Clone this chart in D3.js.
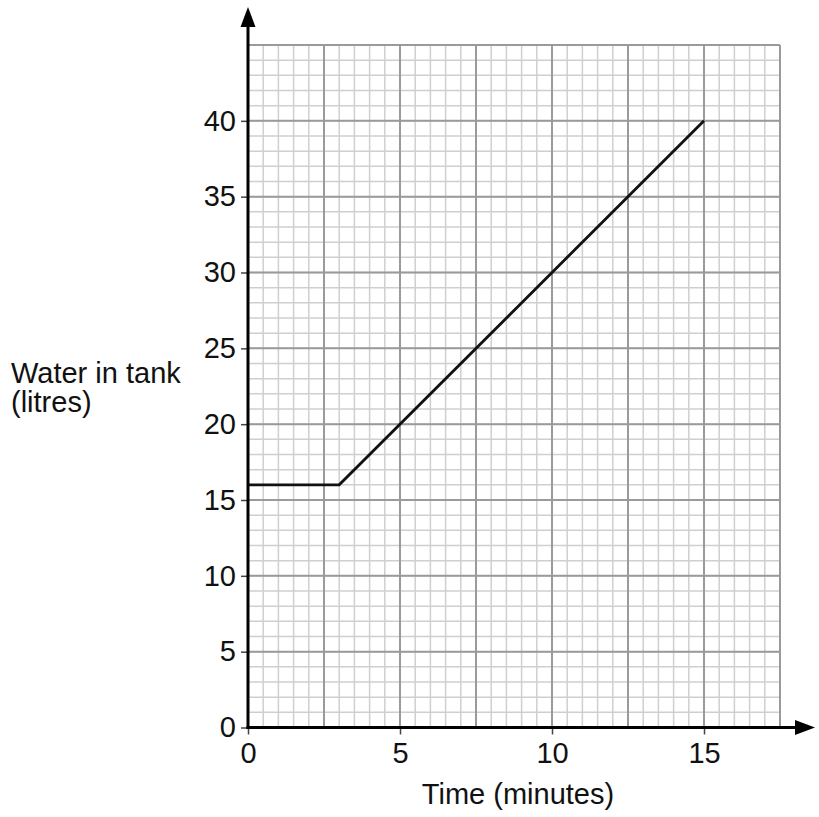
<html>
<head>
<title>Water in tank</title>
<script src="https://d3js.org/d3.v7.min.js"></script>
<style>
	body { margin: 0; background: #fff; }
	text { font-family: "Liberation Sans", Arial, sans-serif; fill: #111; }
</style>
</head>
<body>
<div id="chart"></div>
<script>
	// data
	var time_pts = [0, 3, 15];
	var water_pts = [16, 16, 40];
	var x_ticks = [0, 5, 10, 15];
	var y_ticks = [0, 5, 10, 15, 20, 25, 30, 35, 40];
	var x_max = 17.5;
	var y_max = 45;

	var W = 819, H = 817;
	var svg = d3.select("#chart").append("svg")
		.attr("width", W)
		.attr("height", H);

	var x = d3.scaleLinear().domain([0, x_max]).range([248, 780]);
	var y = d3.scaleLinear().domain([0, y_max]).range([727.5, 45]);

	// grid: minor then major
	var grid = svg.append("g");
	var minor_x = d3.range(0, x_max + 0.01, 0.5);
	var minor_y = d3.range(0, y_max + 0.01, 1);
	var major_x = d3.range(0, x_max + 0.01, 2.5);
	var major_y = d3.range(0, y_max + 0.01, 5);

	grid.selectAll(".mx").data(minor_x).enter().append("line")
		.attr("x1", function(d) { return x(d); })
		.attr("x2", function(d) { return x(d); })
		.attr("y1", y(0)).attr("y2", y(y_max))
		.attr("stroke", "#cfcfcf").attr("stroke-width", 1.5);
	grid.selectAll(".my").data(minor_y).enter().append("line")
		.attr("y1", function(d) { return y(d); })
		.attr("y2", function(d) { return y(d); })
		.attr("x1", x(0)).attr("x2", x(x_max))
		.attr("stroke", "#cfcfcf").attr("stroke-width", 1.5);
	grid.selectAll(".Mx").data(major_x).enter().append("line")
		.attr("x1", function(d) { return x(d); })
		.attr("x2", function(d) { return x(d); })
		.attr("y1", y(0)).attr("y2", y(y_max))
		.attr("stroke", "#9a9a9a").attr("stroke-width", 2);
	grid.selectAll(".My").data(major_y).enter().append("line")
		.attr("y1", function(d) { return y(d); })
		.attr("y2", function(d) { return y(d); })
		.attr("x1", x(0)).attr("x2", x(x_max))
		.attr("stroke", "#9a9a9a").attr("stroke-width", 2);

	// the graph line
	var pts = time_pts.map(function(t, i) { return [t, water_pts[i]]; });
	svg.append("path")
		.datum(pts)
		.attr("fill", "none")
		.attr("stroke", "#111")
		.attr("stroke-width", 2.8)
		.attr("d", d3.line()
			.x(function(d) { return x(d[0]); })
			.y(function(d) { return y(d[1]); }));

	// axes
	var xAxis = svg.append("g")
		.attr("transform", "translate(0," + y(0) + ")")
		.call(d3.axisBottom(x).tickValues(x_ticks).tickSize(7).tickPadding(8).tickFormat(d3.format("d")));
	xAxis.select(".domain").remove();
	xAxis.selectAll(".tick line").attr("stroke", "#444").attr("stroke-width", 1.5);
	xAxis.selectAll("text").attr("font-size", "29px").attr("fill", "#111");

	var yAxis = svg.append("g")
		.attr("transform", "translate(" + x(0) + ",0)")
		.call(d3.axisLeft(y).tickValues(y_ticks).tickSize(7).tickPadding(5).tickFormat(d3.format("d")));
	yAxis.select(".domain").remove();
	yAxis.selectAll(".tick line").attr("stroke", "#444").attr("stroke-width", 1.5);
	yAxis.selectAll("text").attr("font-size", "29px").attr("fill", "#111");

	// axis lines with arrows
	svg.append("line")
		.attr("x1", x(0)).attr("x2", x(0))
		.attr("y1", y(0) + 1.5).attr("y2", 20)
		.attr("stroke", "#000").attr("stroke-width", 3);
	svg.append("path")
		.attr("d", "M" + x(0) + ",7 L" + (x(0) - 7.5) + ",27 L" + (x(0) + 7.5) + ",27 Z")
		.attr("fill", "#000");

	svg.append("line")
		.attr("x1", x(0) - 1.5).attr("x2", 800)
		.attr("y1", y(0)).attr("y2", y(0))
		.attr("stroke", "#000").attr("stroke-width", 3);
	svg.append("path")
		.attr("d", "M815," + y(0) + " L795," + (y(0) - 7.5) + " L795," + (y(0) + 7.5) + " Z")
		.attr("fill", "#000");

	// axis titles
	svg.append("text")
		.attr("x", 11).attr("y", 383)
		.attr("font-size", "29px")
		.text("Water in tank");
	svg.append("text")
		.attr("x", 11).attr("y", 412)
		.attr("font-size", "29px")
		.text("(litres)");
	svg.append("text")
		.attr("x", 518).attr("y", 804)
		.attr("text-anchor", "middle")
		.attr("font-size", "29px")
		.text("Time (minutes)");
</script>
</body>
</html>
